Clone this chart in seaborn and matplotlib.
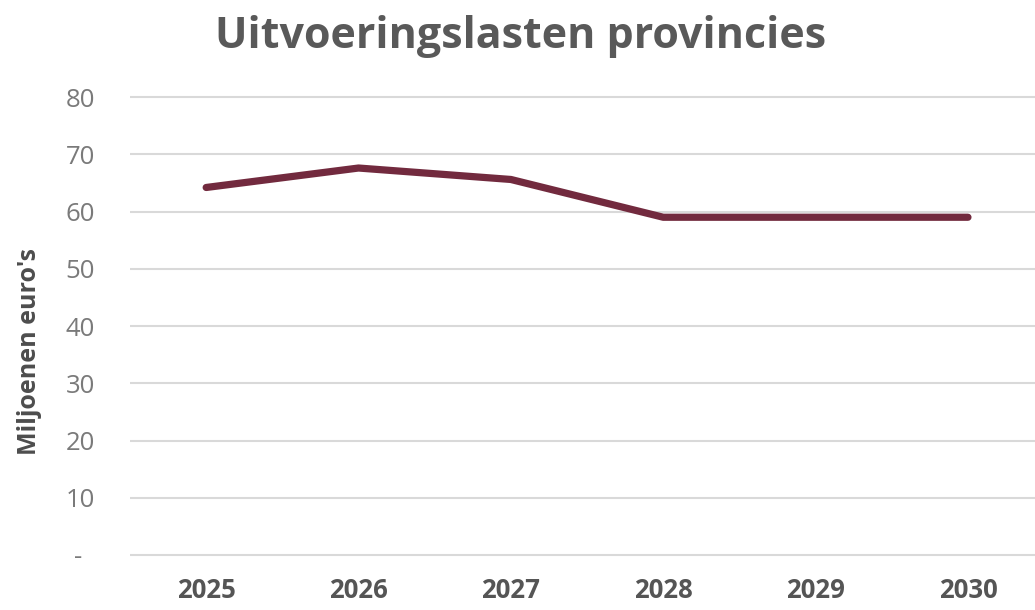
import matplotlib
matplotlib.use("Agg")
import matplotlib.pyplot as plt
import pandas as pd
import seaborn as sns

# Uitvoeringslasten provincies (miljoenen euro's)
years = ["2025", "2026", "2027", "2028", "2029", "2030"]
costs = [64.2, 67.6, 65.6, 59.0, 59.0, 59.0]
y_ticks = [0, 10, 20, 30, 40, 50, 60, 70, 80]
y_tick_labels = ["-  ", "10", "20", "30", "40", "50", "60", "70", "80"]

df = pd.DataFrame({"jaar": years, "lasten": costs})

sns.set_style("white")
plt.rcParams["font.family"] = ["Open Sans", "DejaVu Sans"]

fig = plt.figure(figsize=(10.35, 6.1), dpi=100)
ax = fig.add_axes([0.1256, 0.0808, 0.8744, 0.7695])

sns.lineplot(data=df, x="jaar", y="lasten", ax=ax, color="#722a3e",
             linewidth=5.2, solid_capstyle="round", solid_joinstyle="round",
             sort=False, zorder=3)

ax.set_xlim(-0.5, 5.44)
ax.set_ylim(-1, 81)
ax.set_yticks(y_ticks)
ax.set_yticklabels(y_tick_labels)
ax.grid(axis="y", color="#d9d9d9", linewidth=1.5)
ax.grid(axis="x", visible=False)
for s in ax.spines.values():
    s.set_visible(False)

ax.tick_params(axis="y", length=0, pad=25, labelsize=18.5, labelcolor="#7a7a7a")
ax.tick_params(axis="x", length=0, pad=12, labelsize=18.5, labelcolor="#555555")
for lab in ax.get_xticklabels():
    lab.set_fontweight("bold")

ax.set_xlabel("")
ax.set_ylabel("Miljoenen euro's", fontsize=18, fontweight="bold",
              color="#4d4d4d")
ax.yaxis.set_label_coords(-0.097, 0.445)

fig.suptitle("Uitvoeringslasten provincies", x=0.503, y=0.975,
             fontsize=31, fontweight="bold", color="#595959")

fig.savefig("out.png", dpi=100)
